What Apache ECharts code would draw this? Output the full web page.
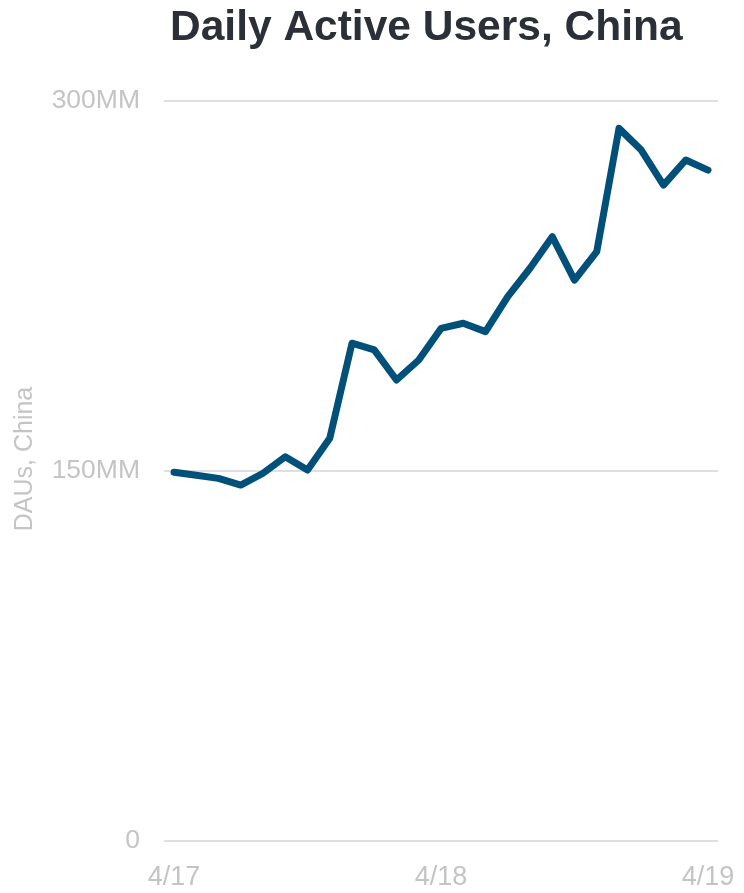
<!DOCTYPE html>
<html>
<head>
<meta charset="utf-8">
<script src="https://cdn.jsdelivr.net/npm/echarts@6/dist/echarts.min.js"></script>
<style>
html,body{margin:0;padding:0;background:#fff;}
#chart{width:744px;height:893px;}
</style>
</head>
<body>
<div id="chart"></div>
<script>
const months = ["4/17","5/17","6/17","7/17","8/17","9/17","10/17","11/17","12/17","1/18","2/18","3/18","4/18","5/18","6/18","7/18","8/18","9/18","10/18","11/18","12/18","1/19","2/19","3/19","4/19"];
const dauChina = [149.5,148.3,147.0,144.3,149.1,155.8,150.4,163.3,201.8,199.1,186.9,195.0,207.8,209.9,206.5,220.7,232.2,245.0,227.4,238.9,288.9,280.1,265.9,276.1,272.0];
const xTickIdx = [0,12,24];
const yTicks = [0,150,300];
const yTickLabels = {0:"0",150:"150MM",300:"300MM"};

const chart = echarts.init(document.getElementById('chart'), null, {renderer:'canvas'});
const FONT = "'Liberation Sans', Arial, sans-serif";
chart.setOption({
  animation:false,
  title:{
    text:"Daily Active Users, China",
    left:165, top:2,
    textStyle:{fontFamily:FONT,fontWeight:'bold',fontSize:42.5,color:'#2b3038'}
  },
  grid:{left:164,right:26,top:101,bottom:52,containLabel:false},
  xAxis:{
    type:'value',
    min:-0.45, max:24.45,
    axisLine:{show:false},
    axisTick:{show:false},
    splitLine:{show:false},
    axisLabel:{
      customValues:xTickIdx,
      formatter:(v)=>months[Math.round(v)],
      color:'#c4c4c4',fontFamily:FONT,fontSize:27,margin:23
    }
  },
  yAxis:{
    type:'value',min:0,max:300,interval:150,
    name:"DAUs, China",
    nameLocation:'middle',
    nameGap:126,
    nameTextStyle:{color:'#c4c4c4',fontFamily:FONT,fontSize:25,padding:[0,0,0,24]},
    axisLine:{show:false},
    axisTick:{show:false},
    splitLine:{show:true,lineStyle:{color:'#dcdfe3',width:2}},
    axisLabel:{
      formatter:(v)=>yTickLabels[v],
      color:'#c4c4c4',fontFamily:FONT,fontSize:26.5,margin:24
    }
  },
  series:[{
    type:'line',
    data:dauChina.map((v,i)=>[i,v]),
    showSymbol:false,
    lineStyle:{color:'#00507a',width:7,cap:'round',join:'round'},
    itemStyle:{color:'#00507a'}
  }]
});
</script>
</body>
</html>
